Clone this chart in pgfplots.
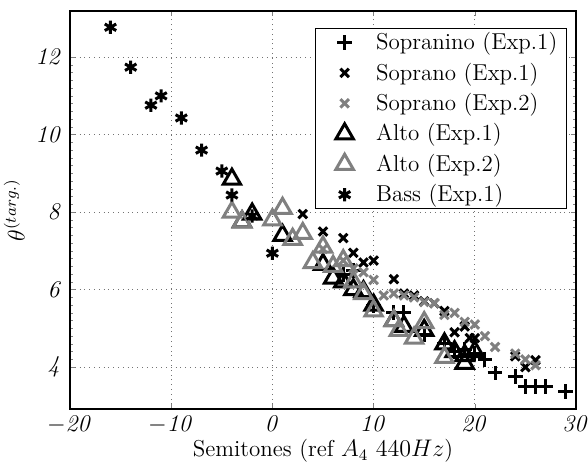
\documentclass[border=0pt]{standalone}
\usepackage{pgfplots}
\pgfplotsset{compat=1.18}
\definecolor{mgray}{RGB}{128,128,128}
% legend mark with fixed room on its left and right
\pgfplotsset{padmark/.style={legend image code/.code={
      \path (-11.5pt,0pt) (5pt,0pt);
      \draw[##1] plot coordinates {(0pt,0pt)};}}}

\begin{document}
\begin{tikzpicture}
  \begin{axis}[
      name=ax,
      scale only axis,
      width=253pt, height=199pt,
      xmin=-20, xmax=30, ymin=2.92, ymax=13.19,
      xtick={-20,-10,...,30}, ytick={4,6,...,12},
      xticklabels={$-\mathit{20}$,$-\mathit{10}$,$\mathit{0}$,$\mathit{10}$,$\mathit{20}$,$\mathit{30}$},
      yticklabels={$\mathit{4}$,$\mathit{6}$,$\mathit{8}$,$\mathit{10}$,$\mathit{12}$},
      minor y tick num=9,
      tick align=inside,
      major tick length=2.5pt, minor tick length=1.5pt,
      grid=major, major grid style={dotted, black!55},
      axis line style={line width=0.8pt},
      tick label style={font=\fontsize{11.5}{13}\selectfont},
      label style={font=\fontsize{11.5}{13}\selectfont},
      xlabel={Semitones (ref $A_4$ $440Hz$)},
      ylabel={$\theta^{(targ.)}$},
      xlabel style={inner sep=0pt, yshift=0.5pt},
      ylabel style={inner sep=0pt, yshift=2pt},
      legend cell align=left,
      legend style={at={(0.982,0.958)}, anchor=north east, draw=black,
        line width=0.6pt, font=\fontsize{11.5}{13}\selectfont,
        row sep=1.1pt, column sep=8pt, inner xsep=2.5pt, inner ysep=0pt},
    ]
    % Sopranino (Exp.1)
    \addplot[only marks, mark=+, mark size=3.7pt, line width=1.5pt, black, padmark] coordinates {
      (7,6.4)(8,6.5)(10,5.6)(12,5.4)(13,5.4)(15,4.85)(17,4.6)(18,4.4)(19,4.45)
      (20,4.35)(21,4.2)(22,3.85)(24,3.75)(25,3.5)(26,3.5)(27,3.5)(29,3.37)
    };
    \addlegendentry{Sopranino (Exp.1)}
    % Soprano (Exp.1)
    \addplot[only marks, mark=x, mark size=3pt, line width=1.5pt, black, padmark] coordinates {
      (3,7.95)(5,7.5)(7,7.33)(8,6.95)(9,6.7)(10,6.75)(12,6.27)(13,5.9)(14,5.85)
      (15,5.7)(16,5.65)(17,5.45)(18,4.9)(19,5.05)(19.5,4.75)(20,4.75)(24,4.28)
      (25,4.0)(26,4.18)
    };
    \addlegendentry{Soprano (Exp.1)}
    % Soprano (Exp.2)
    \addplot[only marks, mark=x, mark size=3pt, line width=1.5pt, mgray, padmark] coordinates {
      (5,7.05)(7,6.75)(8,6.55)(9,6.45)(10,6.25)(11,5.85)(12,5.9)(13,5.85)(14,5.8)
      (15,5.68)(16,5.65)(17,5.35)(18,5.4)(19,5.17)(20,5.1)(21,4.8)(22,4.52)
      (24,4.35)(25,4.2)(26,4.05)
    };
    \addlegendentry{Soprano (Exp.2)}
    % Alto (Exp.1)
    \addplot[only marks, mark=triangle, mark size=5pt, line width=1.5pt, black, padmark] coordinates {
      (-4,8.85)(-2,7.95)(-3,7.75)(1,7.4)(5,6.65)(6,6.3)(7,6.2)(8,6.0)(9,5.95)
      (10,5.6)(12,5.2)(13,5.05)(15,4.95)(17,4.6)(18,4.4)(19,4.1)(20,4.4)(19,4.3)
    };
    \addlegendentry{Alto (Exp.1)}
    % Alto (Exp.2)
    \addplot[only marks, mark=triangle, mark size=5pt, line width=1.5pt, mgray, padmark] coordinates {
      (-4,8.0)(-3,7.75)(0,7.8)(1,8.1)(2,7.3)(3,7.45)(4,6.7)(5,7.1)(6,6.6)(7,6.75)
      (8,6.2)(9,5.9)(10,5.45)(12,5.2)(12.5,4.95)(14,4.75)(15,5.15)(17,4.25)
    };
    \addlegendentry{Alto (Exp.2)}
    % Bass (Exp.1)
    \addplot[only marks, mark=asterisk, mark size=3.3pt, line width=1.5pt, black, padmark] coordinates {
      (-16,12.77)(-14,11.74)(-12,10.76)(-11,11.0)(-9,10.43)(-7,9.6)(-5,9.06)
      (-4,8.44)(-2,7.9)(0,6.94)
    };
    \addlegendentry{Bass (Exp.1)}
  \end{axis}
  % fix the page to the margins of the reference
  \pgfresetboundingbox
  \useasboundingbox ([shift={(-35pt,-26.5pt)}]ax.south west)
    rectangle ([shift={(6pt,5.5pt)}]ax.north east);
\end{tikzpicture}
\end{document}
